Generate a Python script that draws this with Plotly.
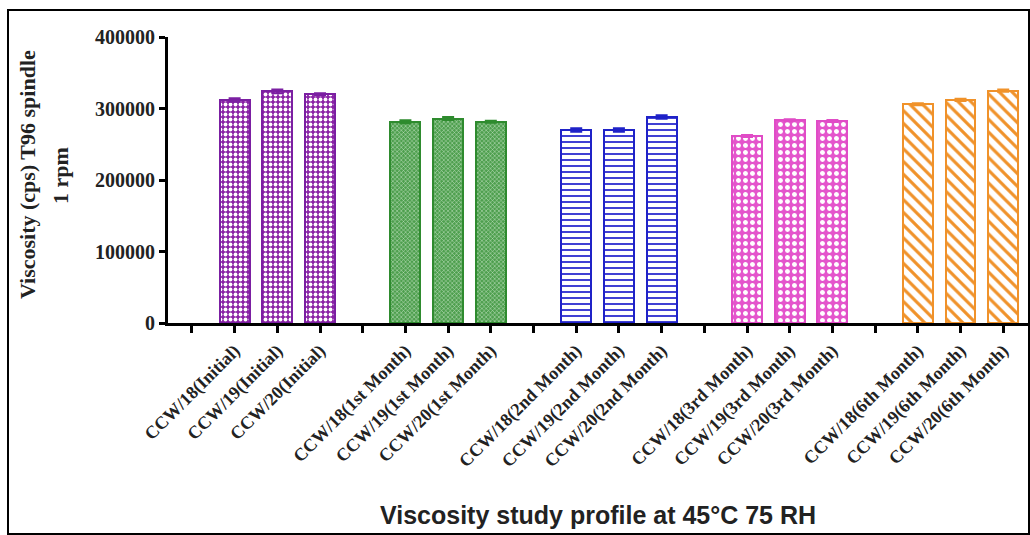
import plotly.graph_objects as go

groups = ["Initial", "1st Month", "2nd Month", "3rd Month", "6th Month"]
samples = ["CCW/18", "CCW/19", "CCW/20"]
values = {
    "Initial":   [312000, 324000, 320000],
    "1st Month": [281500, 286000, 281500],
    "2nd Month": [270000, 270000, 288000],
    "3rd Month": [261500, 283500, 282500],
    "6th Month": [306000, 312000, 325000],
}
errors = {
    "Initial":   [2500, 2500, 1500],
    "1st Month": [2000, 2000, 1500],
    "2nd Month": [2500, 2500, 2500],
    "3rd Month": [1500, 1500, 1500],
    "6th Month": [1500, 1500, 1500],
}
yticks = [0, 100000, 200000, 300000, 400000]
ytitle_lines = ["Viscosity (cps) T96 spindle", "1 rpm"]
xtitle = "Viscosity study profile at 45°C 75 RH"

styles = {
    "Initial":   dict(line="#7b1fa2", bg="#8a22a6", fg="#ffffff", shape=".", size=5, sol=0.45),
    "1st Month": dict(line="#2e8b2e", bg="#4e9f4e", fg="#c8e6c8", shape="x", size=3, sol=0.3),
    "2nd Month": dict(line="#1f22c8", bg="#ffffff", fg="#2a2ad0", shape="-", size=6, sol=0.3),
    "3rd Month": dict(line="#e04cc6", bg="#e455cc", fg="#ffffff", shape=".", size=7, sol=0.4),
    "6th Month": dict(line="#f0922a", bg="#ffffff", fg="#f0922a", shape="\\", size=9, sol=0.35),
}

fig = go.Figure()
tickvals, ticktext = [], []
for g, grp in enumerate(groups):
    base = 4 * g
    tickvals.append(base)
    ticktext.append("")
    xs = []
    for s, smp in enumerate(samples):
        xs.append(base + s + 1)
        tickvals.append(base + s + 1)
        ticktext.append(f"<b>{smp}({grp})</b>")
    st = styles[grp]
    fig.add_trace(go.Bar(
        x=xs, y=values[grp], width=0.7,
        marker=dict(color=st["bg"], line=dict(color=st["line"], width=2),
                    pattern=dict(shape=st["shape"], fgcolor=st["fg"], bgcolor=st["bg"],
                                 size=st["size"], solidity=st["sol"], fillmode="replace")),
        error_y=dict(type="data", array=errors[grp], visible=True, color=st["line"],
                     thickness=2, width=6),
        showlegend=False,
    ))

W, H = 1030, 535
ml, mr, mt, mb = 168, 2, 37, 212
pw, ph = W - ml - mr, H - mt - mb

def px(x):
    return (x - ml) / pw

def py(y):
    return (H - mb - y) / ph

fig.update_layout(
    width=W, height=H,
    margin=dict(l=ml, r=mr, t=mt, b=mb),
    plot_bgcolor="white", paper_bgcolor="white",
    bargap=0,
    xaxis=dict(range=[-0.56, 19.58], tickmode="array", tickvals=tickvals, ticktext=ticktext,
               tickangle=-45, showline=True, linecolor="black", linewidth=3,
               ticks="outside", ticklen=7, tickwidth=3, tickcolor="black",
               showgrid=False, zeroline=False,
               tickfont=dict(family="Liberation Serif", size=18, color="#222222")),
    yaxis=dict(range=[0, 400000], tickvals=yticks, ticktext=[f"<b>{v}</b>" for v in yticks],
               showline=True, linecolor="black", linewidth=3,
               ticks="outside", ticklen=6, tickwidth=3, tickcolor="black",
               showgrid=False, zeroline=False,
               tickfont=dict(family="Liberation Serif", size=20, color="#222222")),
)

for i, (line, xc) in enumerate(zip(ytitle_lines, [27, 60])):
    fig.add_annotation(text=f"<b>{line}</b>", xref="paper", yref="paper",
                       x=px(xc), y=py(175), xanchor="center", yanchor="middle",
                       textangle=-90, showarrow=False,
                       font=dict(family="Liberation Serif", size=22, color="#222222"))

fig.add_annotation(text=f"<b>{xtitle}</b>",
                   xref="paper", yref="paper",
                   x=px(598), y=py(515),
                   xanchor="center", yanchor="middle", showarrow=False,
                   font=dict(family="Liberation Sans", size=25, color="#222222"))

fig.add_shape(type="rect", xref="paper", yref="paper",
              x0=px(8), x1=px(W - 1),
              y0=py(H - 1), y1=py(10),
              line=dict(color="black", width=2), fillcolor="rgba(0,0,0,0)", layer="below")

fig.write_html("out.html", config={"displayModeBar": False},
               post_script="document.body.style.margin='0';document.body.style.overflow='hidden';")
